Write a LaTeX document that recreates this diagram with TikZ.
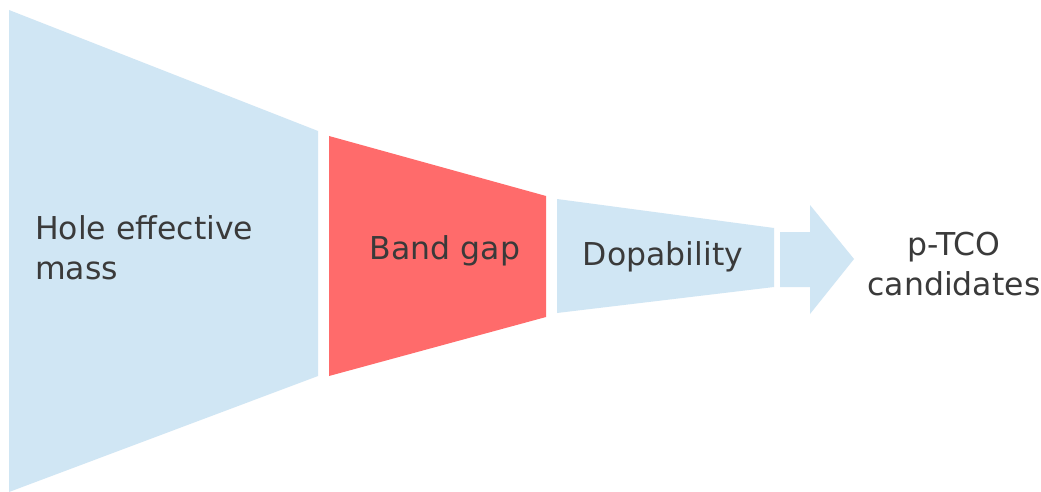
\documentclass[tikz,border=0pt]{standalone}
\usepackage{fontspec}
\setmainfont{DejaVu Sans}
\definecolor{lblue}{HTML}{D0E6F4}
\definecolor{lred}{HTML}{FF6B6B}
\definecolor{txt}{HTML}{3A3A3A}
\begin{document}
\begin{tikzpicture}[x=1pt,y=-1pt,
  stage/.style={fill=#1,draw=none},
  lbl/.style={text=txt,font=\fontsize{31.5}{40}\selectfont,align=center,inner sep=0pt}]
\useasboundingbox (0,0) rectangle (1041,492);
\fill[white] (0,0) rectangle (1041,492);
% stages
\path[stage=lblue] (9,10) -- (318,131) -- (318,376) -- (9,492) -- cycle;
\path[stage=lred] (329,136) -- (546,196) -- (546,317) -- (329,376) -- cycle;
\path[stage=lblue] (557,199) -- (774,228) -- (774,287) -- (557,313) -- cycle;
% arrow
\path[stage=lblue] (780,232) -- (810,232) -- (810,205) -- (854,259) -- (810,314) -- (810,287) -- (780,287) -- cycle;
% labels
\node[lbl,align=left,anchor=west] (hole) at (35,248) {Hole effective\\mass};
\node[lbl] (band) at (445,251) {Band gap};
\node[lbl] (dop) at (663,257) {Dopability};
\node[lbl] (ptco) at (954,264) {p-TCO\\candidates};
\end{tikzpicture}
\end{document}
